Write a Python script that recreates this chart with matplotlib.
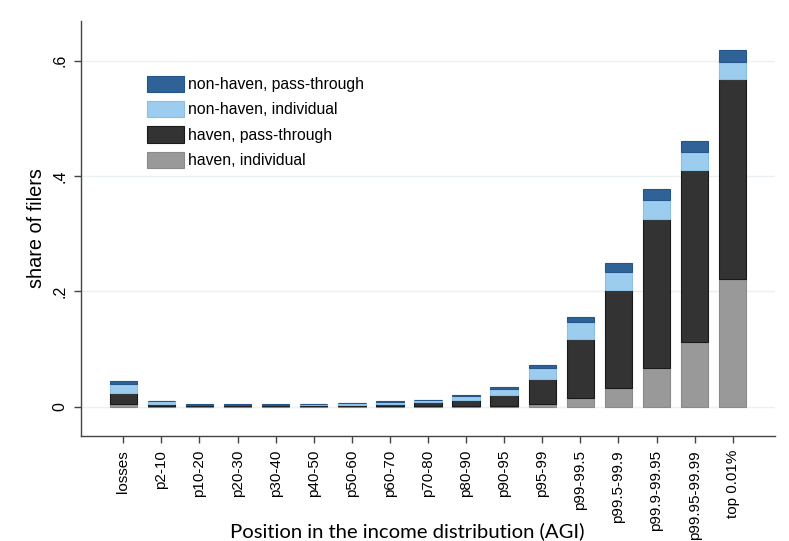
import matplotlib
matplotlib.use("Agg")
import matplotlib.pyplot as plt
import numpy as np

categories = ["losses", "p2-10", "p10-20", "p20-30", "p30-40", "p40-50", "p50-60",
              "p60-70", "p70-80", "p80-90", "p90-95", "p95-99", "p99-99.5",
              "p99.5-99.9", "p99.9-99.95", "p99.95-99.99", "top 0.01%"]

haven_individual = [0.004, 0.001, 0.002, 0.002, 0.002, 0.002, 0.0015, 0.0015, 0.0015,
                    0.0015, 0.002, 0.005, 0.015, 0.032, 0.068, 0.112, 0.221]
haven_passthrough = [0.020, 0.003, 0.0005, 0.0005, 0.0005, 0.0005, 0.002, 0.0035, 0.006,
                     0.010, 0.019, 0.0425, 0.102, 0.170, 0.258, 0.298, 0.348]
nonhaven_individual = [0.016, 0.0055, 0.0013, 0.0013, 0.0013, 0.0015, 0.0025, 0.0038, 0.004,
                       0.0075, 0.010, 0.0205, 0.030, 0.032, 0.032, 0.032, 0.029]
nonhaven_passthrough = [0.004, 0.001, 0.0002, 0.0002, 0.0002, 0.0003, 0.0005, 0.0007, 0.001,
                        0.001, 0.003, 0.004, 0.009, 0.015, 0.020, 0.019, 0.021]

series = [
    ("haven, individual", haven_individual, "#999999", "#8a8a8a"),
    ("haven, pass-through", haven_passthrough, "#333333", "#1a1a1a"),
    ("non-haven, individual", nonhaven_individual, "#9dcdee", "#8bbfe6"),
    ("non-haven, pass-through", nonhaven_passthrough, "#2f6398", "#24568a"),
]

plt.rcParams['font.family'] = ['Liberation Sans', 'DejaVu Sans']

fig = plt.figure(figsize=(7.89, 5.41), dpi=100)
ax = fig.add_axes([81/789, 1-436/541, (775-81)/789, (436-21)/541])

x = np.arange(len(categories))
bottom = np.zeros(len(categories))
handles = []
for label, vals, col, ec in series:
    vals = np.array(vals)
    h = ax.bar(x, vals, width=0.72, bottom=bottom, color=col, edgecolor=ec,
               linewidth=0.8, label=label, zorder=3)
    handles.append(h)
    bottom += vals

ax.set_xlim(-1.11, 17.11)
ax.set_ylim(-0.0508, 0.669)
ax.set_yticks([0, 0.2, 0.4, 0.6])
ax.set_yticklabels(["0", ".2", ".4", ".6"], rotation=90, va="center", fontsize=11.5)
ax.set_xticks(x)
ax.set_xticklabels(categories, rotation=90, fontsize=11.0)
ax.yaxis.grid(True, color="#eaf1f3", linewidth=1.0, zorder=0)
ax.set_axisbelow(True)
for s in ["top", "right"]:
    ax.spines[s].set_visible(False)
for s in ["left", "bottom"]:
    ax.spines[s].set_color("#444444")
    ax.spines[s].set_linewidth(1.0)
ax.tick_params(axis="both", colors="#444444", length=5, width=1.0, labelcolor="black")
ax.tick_params(axis="y", pad=5)
ax.tick_params(axis="x", pad=5)

fig.text(37/789, 1-228/541, "share of filers", rotation=90, ha="center", va="center",
         fontsize=14.3)
fig.text(407/789, 1-537/541, "Position in the income distribution (AGI)",
         ha="center", va="baseline", fontsize=14.6, family=["Lato", "DejaVu Sans"])

leg = ax.legend(handles[::-1], [s[0] for s in series][::-1],
                loc="upper left", bbox_to_anchor=(146.7/789, 1-75.7/541),
                bbox_transform=fig.transFigure, frameon=False, fontsize=11.3,
                handlelength=2.36, handleheight=1.21, labelspacing=0.57,
                handletextpad=0.25, borderpad=0, borderaxespad=0)

fig.savefig("out.png", dpi=100, facecolor="white")
